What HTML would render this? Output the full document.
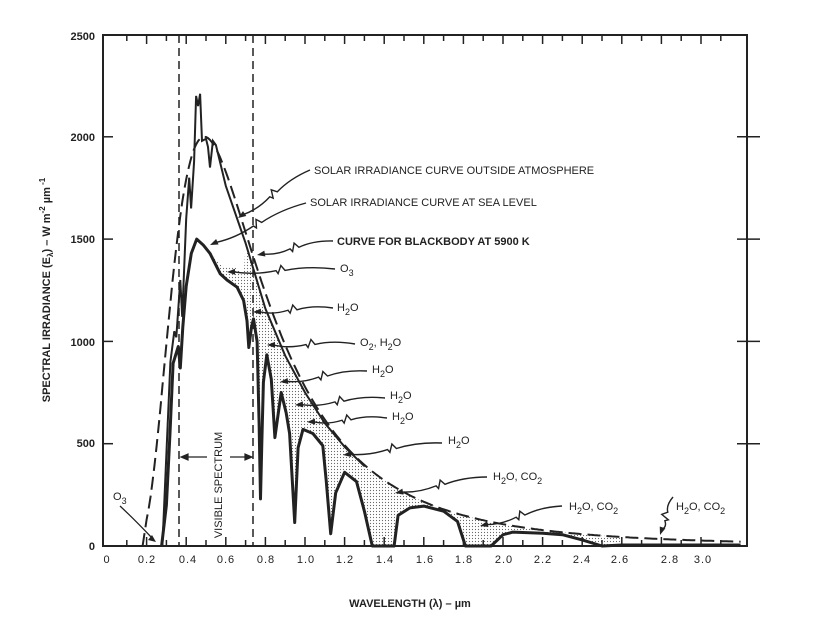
<!DOCTYPE html>
<html><head><meta charset="utf-8"><style>
body{margin:0;background:#fff;}
svg{display:block}
text{font-family:"Liberation Sans",sans-serif;fill:#222;}
</style></head><body>
<svg id="s" width="821" height="619" viewBox="0 0 821 619" xmlns="http://www.w3.org/2000/svg">
<defs>
<pattern id="dots" width="3" height="3" patternUnits="userSpaceOnUse">
<rect width="3" height="3" fill="#fff"/><circle cx="1.5" cy="1.5" r="0.6" fill="#666"/></pattern>
</defs>
<g id="g"></g>
<rect x="103" y="35" width="644" height="511" fill="none" stroke="#222" stroke-width="2"/>
<line x1="179" y1="35" x2="179" y2="546" stroke="#222" stroke-width="1.5" stroke-dasharray="8,5"/>
<line x1="253" y1="35" x2="253" y2="546" stroke="#222" stroke-width="1.5" stroke-dasharray="8,5"/>
<g font-size="11" font-weight="bold" text-anchor="end">
<text x="95" y="40">2500</text><text x="95" y="141">2000</text><text x="95" y="243">1500</text>
<text x="95" y="346">1000</text><text x="95" y="447">500</text><text x="95" y="550">0</text>
</g>
<g font-size="11" text-anchor="middle" letter-spacing="1">
<text x="107" y="563">0</text><text x="147" y="563">0.2</text><text x="188" y="563">0.4</text>
<text x="226" y="563">0.6</text><text x="266" y="563">0.8</text><text x="306" y="563">1.0</text>
<text x="345" y="563">1.2</text><text x="385" y="563">1.4</text><text x="425" y="563">1.6</text>
<text x="464" y="563">1.8</text><text x="504" y="563">2.0</text><text x="543" y="563">2.2</text>
<text x="582" y="563">2.4</text><text x="620" y="563">2.6</text><text x="670" y="563">2.8</text>
<text x="703" y="563">3.0</text>
</g>
<text x="410" y="607" font-size="11" font-weight="bold" text-anchor="middle">WAVELENGTH (λ) – µm</text>
<text transform="translate(50,290) rotate(-90)" font-size="11" font-weight="bold" text-anchor="middle">SPECTRAL IRRADIANCE (E<tspan font-size="8" dy="3">λ</tspan><tspan dy="-3">) – W  m</tspan><tspan font-size="8" dy="-5">-2</tspan><tspan dy="5">  µm</tspan><tspan font-size="8" dy="-5"> -1</tspan></text>
<text transform="translate(222,485) rotate(-90)" font-size="11" text-anchor="middle">VISIBLE SPECTRUM</text>
<g stroke="#222" stroke-width="1.2" fill="#222">
<line x1="183" y1="457" x2="207" y2="457"/><line x1="230" y1="457" x2="250" y2="457"/>
<path d="M181 457 l7 -3 v6z"/><path d="M252 457 l-7 -3 v6z"/>
</g>
<g font-size="11">
<text x="314" y="174">SOLAR IRRADIANCE CURVE OUTSIDE ATMOSPHERE</text>
<text x="310" y="206">SOLAR IRRADIANCE CURVE AT SEA LEVEL</text>
<text x="337" y="245" font-weight="bold">CURVE FOR BLACKBODY AT 5900 K</text>
<text x="340" y="272">O<tspan font-size="9" dy="4">3</tspan></text>
<text x="337" y="311">H<tspan font-size="9" dy="4">2</tspan><tspan dy="-4">O</tspan></text>
<text x="360" y="346">O<tspan font-size="9" dy="4">2</tspan><tspan dy="-4">, H</tspan><tspan font-size="9" dy="4">2</tspan><tspan dy="-4">O</tspan></text>
<text x="372" y="373">H<tspan font-size="9" dy="4">2</tspan><tspan dy="-4">O</tspan></text>
<text x="390" y="399">H<tspan font-size="9" dy="4">2</tspan><tspan dy="-4">O</tspan></text>
<text x="392" y="420">H<tspan font-size="9" dy="4">2</tspan><tspan dy="-4">O</tspan></text>
<text x="448" y="444">H<tspan font-size="9" dy="4">2</tspan><tspan dy="-4">O</tspan></text>
<text x="493" y="480">H<tspan font-size="9" dy="4">2</tspan><tspan dy="-4">O, CO</tspan><tspan font-size="9" dy="4">2</tspan></text>
<text x="569" y="510">H<tspan font-size="9" dy="4">2</tspan><tspan dy="-4">O, CO</tspan><tspan font-size="9" dy="4">2</tspan></text>
<text x="676" y="510">H<tspan font-size="9" dy="4">2</tspan><tspan dy="-4">O, CO</tspan><tspan font-size="9" dy="4">2</tspan></text>
<text x="113" y="500">O<tspan font-size="9" dy="4">3</tspan></text>
</g>
</svg>
<script>
(function(){
var NS="http://www.w3.org/2000/svg",g=document.getElementById("g");
function X(w){return 107+198*w}function Y(v){return 546-v*0.2046}
function el(t,a){var e=document.createElementNS(NS,t);for(var k in a)e.setAttribute(k,a[k]);g.appendChild(e);return e}
function P(pts){return pts.map(function(p,i){return (i?"L":"M")+X(p[0]).toFixed(1)+" "+Y(p[1]).toFixed(1)}).join(" ")}
function planck(l){var b=Math.pow(l,-5)/(Math.exp(2.4386/l)-1);return 2000*b/0.2458}
function interp(a,l){for(var i=1;i<a.length;i++)if(a[i][0]>=l){var t=(l-a[i-1][0])/(a[i][0]-a[i-1][0]);return a[i-1][1]+t*(a[i][1]-a[i-1][1]);}return a[a.length-1][1]}
var bb=[[0.18,0]];for(var l=0.2;l<=3.2;l+=0.01)bb.push([l,planck(l)]);
var outs=[[0.28,0],[0.3,450],[0.32,900],[0.34,1050],[0.35,1020],[0.37,1300],[0.38,1120],[0.4,1600],[0.415,1800],[0.425,1650],[0.44,1880],[0.45,2200],[0.46,2150],[0.47,2210],[0.48,1980],[0.5,1990],[0.51,1950],[0.52,1850],[0.535,1980],[0.55,1960],[0.6,1760],[0.7,1480],[0.8,1160],[0.9,930],[1.0,750],[1.1,600],[1.2,485],[1.3,390]];
var sea=[[0.276,0],[0.3,200],[0.318,552],[0.334,893],[0.36,975],[0.37,870],[0.383,1070],[0.4,1270],[0.426,1430],[0.453,1500],[0.487,1470],[0.52,1430],[0.572,1330],[0.606,1300],[0.657,1265],[0.69,1200],[0.707,1100],[0.716,970],[0.73,1070],[0.74,1110],[0.758,1000],[0.768,600],[0.775,230],[0.782,500],[0.79,800],[0.807,935],[0.83,815],[0.848,530],[0.865,650],[0.88,750],[0.905,650],[0.922,550],[0.948,115],[0.965,480],[0.99,570],[1.04,550],[1.09,490],[1.107,320],[1.13,60],[1.155,260],[1.2,360],[1.26,315],[1.3,170],[1.34,0],[1.45,0],[1.47,150],[1.53,186],[1.6,195],[1.7,170],[1.77,120],[1.81,0],[1.94,0],[2.0,55],[2.05,68],[2.2,62],[2.3,55],[2.4,30],[2.5,0],[2.6,5],[3.2,5]];
var upper=[];for(var l2=0.5;l2<=2.6;l2+=0.01){var v=l2<1.25?Math.min(planck(l2),interp(outs,l2)):planck(l2);if(l2<0.7)v=Math.min(v,interp(sea,l2)+(l2-0.5)*600);upper.push([l2,v]);}
var low=sea.filter(function(p){return p[0]>=0.5&&p[0]<=2.6}).reverse();
el("path",{d:P(upper.concat(low))+"Z",fill:"url(#dots)",stroke:"none"});
el("path",{d:P(bb),fill:"none",stroke:"#222","stroke-width":2,"stroke-dasharray":"13,6"});
el("path",{d:P(outs),fill:"none",stroke:"#222","stroke-width":2});
el("path",{d:P(sea),fill:"none",stroke:"#222","stroke-width":3,"stroke-linejoin":"round"});
for(var i=1;i<32;i++){var x=X(i/10);var h=(i%2==0)?9:6;el("line",{x1:x,y1:546,x2:x,y2:546-h,stroke:"#222","stroke-width":1.5});el("line",{x1:x,y1:35,x2:x,y2:35+h,stroke:"#222","stroke-width":1.5});}
for(var vv=500;vv<2500;vv+=500){el("line",{x1:103,y1:Y(vv),x2:113,y2:Y(vv),stroke:"#222","stroke-width":1.5});el("line",{x1:737,y1:Y(vv),x2:760,y2:Y(vv),stroke:"#222","stroke-width":1.5});}
function arrow(x0,y0,x1,y1){var mx=(x0+x1)/2,my=(y0+y1)/2;var dx=x1-x0,dy=y1-y0,L=Math.hypot(dx,dy),ux=dx/L,uy=dy/L,nx=-uy,ny=ux;
var d="M"+x0+" "+y0+" Q"+(x0+dx*0.25+nx*4)+" "+(y0+dy*0.25+ny*4)+" "+(mx-ux*4)+" "+(my-uy*4)+" L"+(mx+nx*5)+" "+(my+ny*5)+" L"+(mx-nx*3+ux*3)+" "+(my-ny*3+uy*3)+" L"+(mx+ux*5)+" "+(my+uy*5)+" Q"+(x0+dx*0.75-nx*4)+" "+(y0+dy*0.75-ny*4)+" "+(x1-ux*6)+" "+(y1-uy*6);
el("path",{d:d,fill:"none",stroke:"#222","stroke-width":1.4});
el("path",{d:"M"+x1+" "+y1+" L"+(x1-ux*8+nx*3)+" "+(y1-uy*8+ny*3)+" L"+(x1-ux*8-nx*3)+" "+(y1-uy*8-ny*3)+"Z",fill:"#222"});}
arrow(310,170,238,218);arrow(306,203,210,245);arrow(333,241,257,255);arrow(335,269,227,272);
arrow(333,308,253,312);arrow(355,344,267,345);arrow(367,371,280,382);arrow(385,398,295,405);
arrow(387,418,307,422);arrow(442,443,343,455);arrow(487,477,395,493);arrow(562,506,480,526);
arrow(673,497,660,535);
el("path",{d:"M120 506 Q135 520 152 538",fill:"none",stroke:"#222","stroke-width":1.3});
el("path",{d:"M156 542 l-8 -2 l4 -5z",fill:"#222"});
})();
</script>
</body></html>
